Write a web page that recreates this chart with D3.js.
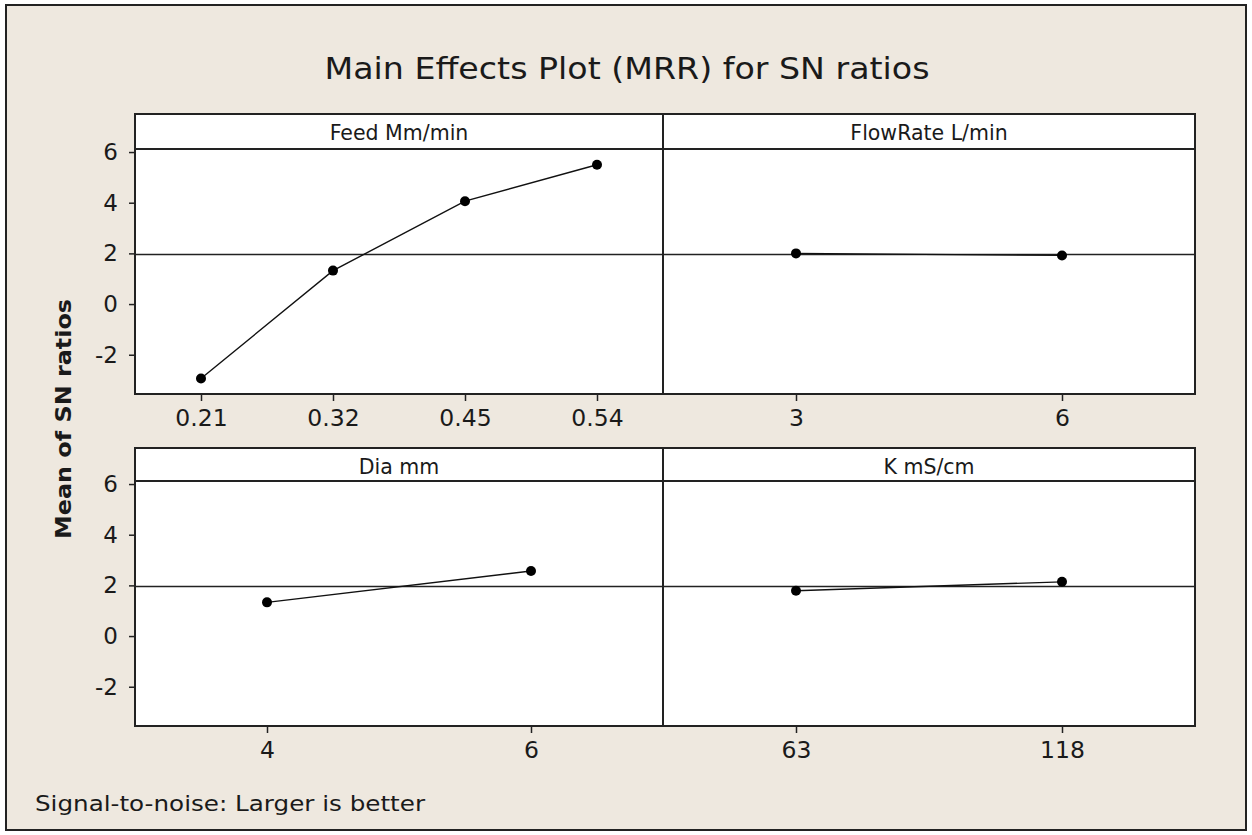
<!DOCTYPE html>
<html>
<head>
<meta charset="utf-8">
<script src="https://cdn.jsdelivr.net/npm/d3@7"></script>
<style>
  body { margin: 0; background: #fff; }
  text { font-family: "DejaVu Sans", sans-serif; fill: #1a1a1a; }
</style>
</head>
<body>
<svg id="chart" width="1252" height="835"></svg>
<script>
'use strict'

// factor names (strip labels)
const factors = ['Feed Mm/min', 'FlowRate L/min', 'Dia mm', 'K mS/cm']
// levels for each factor
const feedLevels = ['0.21', '0.32', '0.45', '0.54']
const flowLevels = ['3', '6']
const diaLevels = ['4', '6']
const kLevels = ['63', '118']
// mean SN ratio at each level
const feedSN = [-2.94, 1.32, 4.06, 5.50]
const flowSN = [2.00, 1.92]
const diaSN = [1.33, 2.57]
const kSN = [1.79, 2.14]
// grand mean
const grandMean = 1.96
const yTicks = [-2, 0, 2, 4, 6]

const panels = [
    {name: factors[0], levels: feedLevels, values: feedSN, col: 0, row: 0},
    {name: factors[1], levels: flowLevels, values: flowSN, col: 1, row: 0},
    {name: factors[2], levels: diaLevels, values: diaSN, col: 0, row: 1},
    {name: factors[3], levels: kLevels, values: kSN, col: 1, row: 1},
]

const svg = d3.select('#chart')

// background frame
svg.append('rect')
    .attr('x', 6).attr('y', 5).attr('width', 1240).attr('height', 825)
    .attr('fill', '#eee8df').attr('stroke', '#222').attr('stroke-width', 2)

const colX = [[135, 663], [663, 1195]]
const rowY = [{strip: 114, top: 149, bottom: 394}, {strip: 448, top: 481, bottom: 726}]

svg.append('text')
    .attr('x', 627).attr('y', 79)
    .attr('text-anchor', 'middle')
    .attr('font-size', 30)
    .attr('textLength', 605)
    .attr('lengthAdjust', 'spacingAndGlyphs')
    .text('Main Effects Plot (MRR) for SN ratios')

svg.append('text')
    .attr('transform', 'translate(71,419) rotate(-90)')
    .attr('text-anchor', 'middle')
    .attr('font-size', 22)
    .attr('font-weight', 'bold')
    .attr('textLength', 240)
    .attr('lengthAdjust', 'spacingAndGlyphs')
    .text('Mean of SN ratios')

svg.append('text')
    .attr('x', 35).attr('y', 811)
    .attr('font-size', 21)
    .attr('textLength', 390)
    .attr('lengthAdjust', 'spacingAndGlyphs')
    .text('Signal-to-noise: Larger is better')

for (let p of panels) {
    const [x0, x1] = colX[p.col]
    const r = rowY[p.row]

    const x = d3.scalePoint().domain(p.levels).range([x0, x1]).padding(0.5)
    const y = d3.scaleLinear().domain([-3.55, 6.12]).range([r.bottom, r.top])

    const g = svg.append('g')

    // strip
    g.append('rect')
        .attr('x', x0).attr('y', r.strip).attr('width', x1 - x0).attr('height', r.top - r.strip)
        .attr('fill', '#fff')
    g.append('text')
        .attr('x', (x0 + x1) / 2).attr('y', r.strip + 26)
        .attr('text-anchor', 'middle')
        .attr('font-size', 20.5)
        .text(p.name)

    // plot area
    g.append('rect')
        .attr('x', x0).attr('y', r.top).attr('width', x1 - x0).attr('height', r.bottom - r.top)
        .attr('fill', '#fff')

    // reference line
    g.append('line')
        .attr('x1', x0).attr('x2', x1)
        .attr('y1', y(grandMean)).attr('y2', y(grandMean))
        .attr('stroke', '#222').attr('stroke-width', 1.5)

    // effect line + points
    const pts = p.levels.map((l, i) => [x(l), y(p.values[i])])
    g.append('path')
        .attr('d', d3.line()(pts))
        .attr('fill', 'none').attr('stroke', '#111').attr('stroke-width', 1.4)
    g.selectAll('circle').data(pts).enter().append('circle')
        .attr('cx', d => d[0]).attr('cy', d => d[1]).attr('r', 5)
        .attr('fill', '#000')

    // x axis
    const xAxis = g.append('g')
        .attr('transform', `translate(0,${r.bottom})`)
        .call(d3.axisBottom(x).tickSize(7).tickPadding(8))
    xAxis.select('.domain').remove()
    xAxis.selectAll('line').attr('stroke', '#222').attr('stroke-width', 1.5)
    xAxis.selectAll('text').attr('font-size', 23.5).attr('fill', '#1a1a1a')
        .attr('font-family', '"DejaVu Sans", sans-serif')

    // y axis only on left column
    if (p.col === 0) {
        const yAxis = g.append('g')
            .attr('transform', `translate(${x0},0)`)
            .call(d3.axisLeft(y).tickValues(yTicks).tickFormat(d => String(d)).tickSize(6).tickPadding(11))
        yAxis.select('.domain').remove()
        yAxis.selectAll('line').attr('stroke', '#222').attr('stroke-width', 1.5)
        yAxis.selectAll('text').attr('font-size', 23).attr('fill', '#1a1a1a')
            .attr('font-family', '"DejaVu Sans", sans-serif')
    }

    // borders
    g.append('rect')
        .attr('x', x0).attr('y', r.strip).attr('width', x1 - x0).attr('height', r.bottom - r.strip)
        .attr('fill', 'none').attr('stroke', '#222').attr('stroke-width', 2)
    g.append('line')
        .attr('x1', x0).attr('x2', x1).attr('y1', r.top).attr('y2', r.top)
        .attr('stroke', '#222').attr('stroke-width', 2)
}
</script>
</body>
</html>
